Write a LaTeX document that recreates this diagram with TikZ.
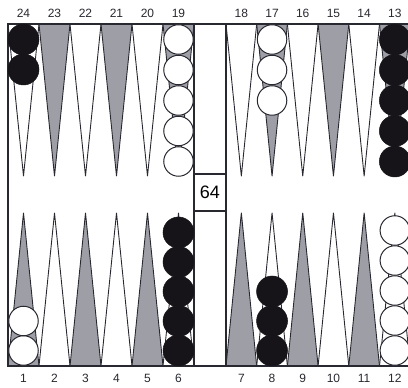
\documentclass[tikz,border=0pt]{standalone}
\usepackage{fontspec}
\newfontfamily\boardfont{Liberation Sans}
\definecolor{ptgray}{RGB}{158,158,166}
\definecolor{ptline}{RGB}{40,40,48}
\definecolor{chkblack}{RGB}{22,20,24}
\usetikzlibrary{positioning}

\begin{document}
\begin{tikzpicture}[x=1pt, y=1pt,
  darkpt/.style={fill=ptgray, draw=ptline, line width=0.9pt, line join=round},
  lightpt/.style={fill=white, draw=ptline, line width=0.9pt, line join=round},
  frame/.style={draw=ptline, line width=1.1pt},
  num/.style={font=\boardfont\fontsize{12}{12}\selectfont, text=ptline, inner sep=0pt},
  wchk/.style={circle, draw=ptline, fill=white, line width=1pt, minimum size=29.5pt, inner sep=0pt},
  bchk/.style={circle, draw=chkblack, fill=chkblack, line width=0.5pt, minimum size=31pt, inner sep=0pt},
  cube/.style={draw=ptline, line width=1.1pt, fill=white, minimum width=32pt, minimum height=37pt, inner sep=0pt, font=\boardfont\fontsize{18}{18}\selectfont}
]
  \useasboundingbox (0,0) rectangle (408,388);

  % top points, 24 to 19 and 18 to 13
  \draw[lightpt] (8,364) -- (23.5,212) -- (39,364);
  \draw[darkpt] (39,364) -- (54.5,212) -- (70,364);
  \draw[lightpt] (70,364) -- (85.5,212) -- (101,364);
  \draw[darkpt] (101,364) -- (116.5,212) -- (132,364);
  \draw[lightpt] (132,364) -- (147.5,212) -- (163,364);
  \draw[darkpt] (163,364) -- (178.5,212) -- (194,364);
  \draw[lightpt] (226,364) -- (241.35,212) -- (256.7,364);
  \draw[darkpt] (256.7,364) -- (272.05,212) -- (287.4,364);
  \draw[lightpt] (287.4,364) -- (302.75,212) -- (318.1,364);
  \draw[darkpt] (318.1,364) -- (333.45,212) -- (348.8,364);
  \draw[lightpt] (348.8,364) -- (364.15,212) -- (379.5,364);
  \draw[darkpt] (379.5,364) -- (394.85,212) -- (410.2,364);

  % bottom points, 1 to 6 and 7 to 12
  \draw[darkpt] (8,22) -- (23.5,175) -- (39,22);
  \draw[lightpt] (39,22) -- (54.5,175) -- (70,22);
  \draw[darkpt] (70,22) -- (85.5,175) -- (101,22);
  \draw[lightpt] (101,22) -- (116.5,175) -- (132,22);
  \draw[darkpt] (132,22) -- (147.5,175) -- (163,22);
  \draw[lightpt] (163,22) -- (178.5,175) -- (194,22);
  \draw[darkpt] (226,22) -- (241.35,175) -- (256.7,22);
  \draw[lightpt] (256.7,22) -- (272.05,175) -- (287.4,22);
  \draw[darkpt] (287.4,22) -- (302.75,175) -- (318.1,22);
  \draw[lightpt] (318.1,22) -- (333.45,175) -- (348.8,22);
  \draw[darkpt] (348.8,22) -- (364.15,175) -- (379.5,22);
  \draw[lightpt] (379.5,22) -- (394.85,175) -- (410.2,22);

  % board frame and bar
  \draw[frame] (410.2,364) -- (8,364) -- (8,22) -- (410.2,22);
  \draw[frame] (194,22) -- (194,364);
  \draw[frame] (226,22) -- (226,364);
  \node[cube] (cube) at (210,195.5) {64};

  % point numbers
  \node[num] (n24) at (23.5,375) {24};
  \node[num] (n23) at (54.5,375) {23};
  \node[num] (n22) at (85.5,375) {22};
  \node[num] (n21) at (116.5,375) {21};
  \node[num] (n20) at (147.5,375) {20};
  \node[num] (n19) at (178.5,375) {19};
  \node[num] (n18) at (241.35,375) {18};
  \node[num] (n17) at (272.05,375) {17};
  \node[num] (n16) at (302.75,375) {16};
  \node[num] (n15) at (333.45,375) {15};
  \node[num] (n14) at (364.15,375) {14};
  \node[num] (n13) at (394.85,375) {13};
  \node[num] (n1) at (23.5,10) {1};
  \node[num] (n2) at (54.5,10) {2};
  \node[num] (n3) at (85.5,10) {3};
  \node[num] (n4) at (116.5,10) {4};
  \node[num] (n5) at (147.5,10) {5};
  \node[num] (n6) at (178.5,10) {6};
  \node[num] (n7) at (241.35,10) {7};
  \node[num] (n8) at (272.05,10) {8};
  \node[num] (n9) at (302.75,10) {9};
  \node[num] (n10) at (333.45,10) {10};
  \node[num] (n11) at (364.15,10) {11};
  \node[num] (n12) at (394.85,10) {12};

  % checkers, top
  \node[bchk] (b24a) at (23.5,348.5) {};
  \node[bchk] (b24b) at (23.5,318.5) {};
  \node[wchk] (w19a) at (178.5,348.5) {};
  \node[wchk] (w19b) at (178.5,318) {};
  \node[wchk] (w19c) at (178.5,287.5) {};
  \node[wchk] (w19d) at (178.5,257) {};
  \node[wchk] (w19e) at (178.5,226.5) {};
  \node[wchk] (w17a) at (272.05,348.5) {};
  \node[wchk] (w17b) at (272.05,318) {};
  \node[wchk] (w17c) at (272.05,287.5) {};
  \node[bchk] (b13a) at (394.85,348.5) {};
  \node[bchk] (b13b) at (394.85,318) {};
  \node[bchk] (b13c) at (394.85,287.5) {};
  \node[bchk] (b13d) at (394.85,257) {};
  \node[bchk] (b13e) at (394.85,226.5) {};

  % checkers, bottom
  \node[wchk] (w1a) at (23.5,37.5) {};
  \node[wchk] (w1b) at (23.5,67) {};
  \node[bchk] (b6a) at (178.5,37.5) {};
  \node[bchk] (b6b) at (178.5,67) {};
  \node[bchk] (b6c) at (178.5,96.5) {};
  \node[bchk] (b6d) at (178.5,126) {};
  \node[bchk] (b6e) at (178.5,155.5) {};
  \node[bchk] (b8a) at (272.05,37.5) {};
  \node[bchk] (b8b) at (272.05,67) {};
  \node[bchk] (b8c) at (272.05,96.5) {};
  \node[wchk] (w12a) at (394.85,37.5) {};
  \node[wchk] (w12b) at (394.85,67.5) {};
  \node[wchk] (w12c) at (394.85,97.5) {};
  \node[wchk] (w12d) at (394.85,127.5) {};
  \node[wchk] (w12e) at (394.85,157.5) {};
\end{tikzpicture}
\end{document}
